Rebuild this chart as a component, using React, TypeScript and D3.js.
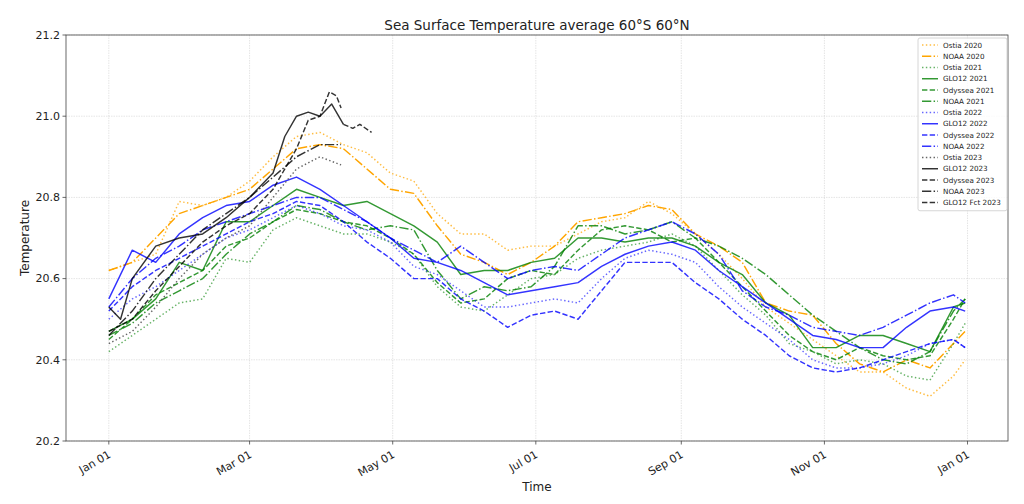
import React from 'react';
import * as d3 from 'd3';

// ---------- DATA ----------
const FULL_DAYS = [0, 10, 20, 30, 40, 50, 60, 70, 80, 90, 100, 110, 120, 130, 140, 150, 160, 170, 180, 190, 200, 210, 220, 230, 240, 250, 260, 270, 280, 290, 300, 310, 320, 330, 340, 350, 360, 365];

const ostia2020 = [20.62, 20.64, 20.66, 20.79, 20.78, 20.80, 20.84, 20.90, 20.95, 20.96, 20.93, 20.91, 20.86, 20.84, 20.76, 20.71, 20.71, 20.67, 20.68, 20.68, 20.71, 20.74, 20.75, 20.79, 20.76, 20.71, 20.66, 20.60, 20.53, 20.49, 20.45, 20.41, 20.37, 20.37, 20.33, 20.31, 20.36, 20.40];
const noaa2020 = [20.62, 20.64, 20.70, 20.76, 20.78, 20.80, 20.82, 20.87, 20.92, 20.93, 20.92, 20.87, 20.82, 20.81, 20.73, 20.66, 20.64, 20.61, 20.64, 20.68, 20.74, 20.75, 20.76, 20.78, 20.77, 20.71, 20.68, 20.64, 20.54, 20.52, 20.51, 20.44, 20.39, 20.37, 20.40, 20.38, 20.44, 20.47];
const ostia2021 = [20.42, 20.46, 20.50, 20.54, 20.55, 20.65, 20.64, 20.72, 20.75, 20.73, 20.71, 20.71, 20.69, 20.66, 20.58, 20.53, 20.52, 20.56, 20.60, 20.61, 20.65, 20.67, 20.68, 20.69, 20.71, 20.68, 20.62, 20.56, 20.51, 20.44, 20.42, 20.39, 20.40, 20.39, 20.36, 20.35, 20.44, 20.49];
const glo2021 = [20.47, 20.50, 20.55, 20.64, 20.62, 20.74, 20.74, 20.78, 20.82, 20.80, 20.78, 20.79, 20.76, 20.73, 20.69, 20.61, 20.62, 20.62, 20.64, 20.65, 20.70, 20.70, 20.69, 20.70, 20.70, 20.68, 20.64, 20.61, 20.54, 20.51, 20.43, 20.43, 20.46, 20.46, 20.44, 20.42, 20.53, 20.54];
const odyssea2021 = [20.45, 20.50, 20.56, 20.59, 20.62, 20.68, 20.70, 20.74, 20.77, 20.76, 20.74, 20.73, 20.70, 20.66, 20.59, 20.54, 20.55, 20.60, 20.62, 20.61, 20.67, 20.72, 20.73, 20.72, 20.69, 20.70, 20.64, 20.58, 20.52, 20.46, 20.42, 20.40, 20.43, 20.41, 20.40, 20.41, 20.50, 20.55];
const noaa2021 = [20.46, 20.49, 20.54, 20.57, 20.60, 20.66, 20.71, 20.74, 20.78, 20.77, 20.74, 20.72, 20.73, 20.72, 20.62, 20.55, 20.58, 20.57, 20.58, 20.63, 20.73, 20.73, 20.71, 20.72, 20.74, 20.70, 20.68, 20.65, 20.61, 20.56, 20.51, 20.47, 20.43, 20.40, 20.39, 20.42, 20.52, 20.55];
const ostia2022 = [20.50, 20.55, 20.58, 20.62, 20.66, 20.70, 20.72, 20.75, 20.78, 20.76, 20.73, 20.72, 20.69, 20.63, 20.61, 20.57, 20.53, 20.53, 20.54, 20.55, 20.54, 20.60, 20.65, 20.67, 20.66, 20.64, 20.58, 20.53, 20.49, 20.45, 20.40, 20.38, 20.38, 20.39, 20.41, 20.44, 20.45, 20.43];
const glo2022 = [20.55, 20.67, 20.64, 20.71, 20.75, 20.78, 20.79, 20.83, 20.85, 20.82, 20.78, 20.74, 20.70, 20.65, 20.64, 20.62, 20.59, 20.56, 20.57, 20.58, 20.59, 20.63, 20.66, 20.68, 20.69, 20.67, 20.62, 20.58, 20.54, 20.50, 20.46, 20.45, 20.43, 20.43, 20.48, 20.52, 20.53, 20.52];
const odyssea2022 = [20.52, 20.58, 20.62, 20.65, 20.68, 20.71, 20.74, 20.76, 20.79, 20.78, 20.74, 20.69, 20.65, 20.60, 20.60, 20.55, 20.52, 20.48, 20.51, 20.52, 20.50, 20.57, 20.64, 20.64, 20.64, 20.59, 20.55, 20.50, 20.46, 20.41, 20.38, 20.37, 20.38, 20.40, 20.42, 20.44, 20.45, 20.43];
const noaa2022 = [20.53, 20.60, 20.65, 20.68, 20.72, 20.74, 20.76, 20.78, 20.80, 20.80, 20.77, 20.74, 20.70, 20.67, 20.64, 20.68, 20.64, 20.60, 20.62, 20.63, 20.62, 20.66, 20.70, 20.72, 20.74, 20.71, 20.66, 20.57, 20.53, 20.51, 20.48, 20.47, 20.46, 20.48, 20.51, 20.54, 20.56, 20.54];

const DAYS_2023 = [0, 10, 20, 30, 40, 50, 60, 70, 80, 90, 99];
const ostia2023 = [20.44, 20.47, 20.53, 20.60, 20.66, 20.70, 20.73, 20.80, 20.87, 20.90, 20.88];
const noaa2023 = [20.46, 20.52, 20.60, 20.66, 20.72, 20.76, 20.80, 20.85, 20.90, 20.93, 20.93];
const DAYS_GLO2023 = [0, 5, 10, 20, 30, 40, 50, 60, 70, 75, 80, 85, 90, 95, 100];
const glo2023 = [20.53, 20.50, 20.60, 20.68, 20.70, 20.71, 20.75, 20.80, 20.86, 20.95, 21.00, 21.01, 21.00, 21.03, 20.98];
const DAYS_ODY2023 = [0, 10, 20, 30, 40, 50, 60, 70, 80, 85, 90, 94, 97, 99];
const odyssea2023 = [20.47, 20.50, 20.57, 20.63, 20.69, 20.73, 20.76, 20.82, 20.92, 20.99, 21.00, 21.06, 21.05, 21.02];
const DAYS_FCT2023 = [100, 104, 107, 112];
const gloFct2023 = [20.98, 20.97, 20.98, 20.96];

const Y_TICKS = [20.2, 20.4, 20.6, 20.8, 21.0, 21.2];
const X_TICK_MONTHS = [0, 2, 4, 6, 8, 10, 12];

type Style = 'solid' | 'dashed' | 'dotted' | 'dashdot';
interface Series { name: string; days: number[]; values: number[]; color: string; style: Style; opacity: number; }

const SERIES: Series[] = [
  { name: 'Ostia 2020', days: FULL_DAYS, values: ostia2020, color: '#ffa500', style: 'dotted', opacity: 0.75 },
  { name: 'NOAA 2020', days: FULL_DAYS, values: noaa2020, color: '#ffa500', style: 'dashdot', opacity: 1 },
  { name: 'Ostia 2021', days: FULL_DAYS, values: ostia2021, color: '#008000', style: 'dotted', opacity: 0.6 },
  { name: 'GLO12 2021', days: FULL_DAYS, values: glo2021, color: '#008000', style: 'solid', opacity: 0.8 },
  { name: 'Odyssea 2021', days: FULL_DAYS, values: odyssea2021, color: '#008000', style: 'dashed', opacity: 0.8 },
  { name: 'NOAA 2021', days: FULL_DAYS, values: noaa2021, color: '#008000', style: 'dashdot', opacity: 0.8 },
  { name: 'Ostia 2022', days: FULL_DAYS, values: ostia2022, color: '#0000ff', style: 'dotted', opacity: 0.6 },
  { name: 'GLO12 2022', days: FULL_DAYS, values: glo2022, color: '#0000ff', style: 'solid', opacity: 0.8 },
  { name: 'Odyssea 2022', days: FULL_DAYS, values: odyssea2022, color: '#0000ff', style: 'dashed', opacity: 0.8 },
  { name: 'NOAA 2022', days: FULL_DAYS, values: noaa2022, color: '#0000ff', style: 'dashdot', opacity: 0.8 },
  { name: 'Ostia 2023', days: DAYS_2023, values: ostia2023, color: '#555555', style: 'dotted', opacity: 0.9 },
  { name: 'GLO12 2023', days: DAYS_GLO2023, values: glo2023, color: '#000000', style: 'solid', opacity: 0.8 },
  { name: 'Odyssea 2023', days: DAYS_ODY2023, values: odyssea2023, color: '#000000', style: 'dashed', opacity: 0.8 },
  { name: 'NOAA 2023', days: DAYS_2023, values: noaa2023, color: '#000000', style: 'dashdot', opacity: 0.8 },
  { name: 'GLO12 Fct 2023', days: DAYS_FCT2023, values: gloFct2023, color: '#000000', style: 'dashed', opacity: 0.8 },
];

// ---------- LAYOUT ----------
const W = 1024, H = 504;
const M = { left: 66, right: 1008, top: 35, bottom: 441 };
const LW = 1.45;
const DASH: Record<Style, string | undefined> = {
  solid: undefined,
  dashed: `${3.7 * LW},${1.6 * LW}`,
  dotted: `${1 * LW},${1.65 * LW}`,
  dashdot: `${6.4 * LW},${1.6 * LW},${1 * LW},${1.6 * LW}`,
};
const FONT = 'DejaVu Sans, sans-serif';

const base = new Date(2020, 0, 1).getTime();
const dayToDate = (d: number) => new Date(base + d * 86400000);

export default function App() {
  const x = d3.scaleTime()
    .domain([dayToDate(-18.25), dayToDate(383.25)])
    .range([M.left, M.right]);
  const y = d3.scaleLinear().domain([20.2, 21.2]).range([M.bottom, M.top]);
  const line = d3.line<[number, number]>()
    .x(p => x(dayToDate(p[0])))
    .y(p => y(p[1]));
  const xTicks = X_TICK_MONTHS.map(m => new Date(2020, m, 1));
  const fmt = d3.timeFormat('%b %d');

  const legX = 918, legY = 38, legW = 89, rowH = 11.25;

  return (
    <svg width={W} height={H} style={{ position: 'absolute', left: 0, top: 0, background: '#fff' }} fontFamily={FONT}>
      <rect x={0} y={0} width={W} height={H} fill="#fff" />
      {/* grid */}
      <g stroke="#c8c8c8" strokeOpacity={0.6} strokeWidth={0.8} strokeDasharray="1.5,1">
        {Y_TICKS.map(t => <line key={'gy' + t} x1={M.left} x2={M.right} y1={y(t)} y2={y(t)} />)}
        {xTicks.map((t, i) => <line key={'gx' + i} x1={x(t)} x2={x(t)} y1={M.top} y2={M.bottom} />)}
      </g>
      {/* series */}
      <g fill="none">
        {SERIES.map(s => (
          <path key={s.name}
            d={line(s.days.map((d, i) => [d, s.values[i]] as [number, number])) || ''}
            stroke={s.color} strokeOpacity={s.opacity} strokeWidth={LW}
            strokeDasharray={DASH[s.style]} strokeLinejoin="round" />
        ))}
      </g>
      {/* frame */}
      <rect x={M.left} y={M.top} width={M.right - M.left} height={M.bottom - M.top} fill="none" stroke="#444" strokeWidth={0.8} />
      {/* y axis */}
      <g fontSize={11} fill="#222" textAnchor="end">
        {Y_TICKS.map(t => (
          <g key={'yt' + t}>
            <line x1={M.left - 3.5} x2={M.left} y1={y(t)} y2={y(t)} stroke="#444" strokeWidth={0.8} />
            <text x={M.left - 6} y={y(t)} dy="0.35em">{t.toFixed(1)}</text>
          </g>
        ))}
      </g>
      {/* x axis */}
      <g fontSize={11} fill="#222" textAnchor="end">
        {xTicks.map((t, i) => (
          <g key={'xt' + i}>
            <line x1={x(t)} x2={x(t)} y1={M.bottom} y2={M.bottom + 3.5} stroke="#444" strokeWidth={0.8} />
            <text transform={`translate(${x(t) - 1},${M.bottom + 9}) rotate(-30)`} dy="0.7em">{fmt(t)}</text>
          </g>
        ))}
      </g>
      <text x={(M.left + M.right) / 2} y={491} textAnchor="middle" fontSize={12} fill="#222">Time</text>
      <text transform={`translate(29,${(M.top + M.bottom) / 2}) rotate(-90)`} textAnchor="middle" fontSize={12} fill="#222">Temperature</text>
      <text x={(M.left + M.right) / 2} y={30} textAnchor="middle" fontSize={13.5} fill="#222">Sea Surface Temperature average 60°S 60°N</text>
      {/* legend */}
      <g>
        <rect x={legX} y={legY} width={legW} height={rowH * SERIES.length + 4} rx={2} fill="#fff" fillOpacity={0.8} stroke="#ccc" strokeWidth={0.8} />
        {SERIES.map((s, i) => {
          const cy = legY + 7 + i * rowH;
          return (
            <g key={'lg' + s.name}>
              <line x1={legX + 4} x2={legX + 20} y1={cy} y2={cy} stroke={s.color} strokeOpacity={s.opacity}
                strokeWidth={LW} strokeDasharray={DASH[s.style]} />
              <text x={legX + 25} y={cy} dy="0.35em" fontSize={7.2} fill="#222">{s.name}</text>
            </g>
          );
        })}
      </g>
    </svg>
  );
}
